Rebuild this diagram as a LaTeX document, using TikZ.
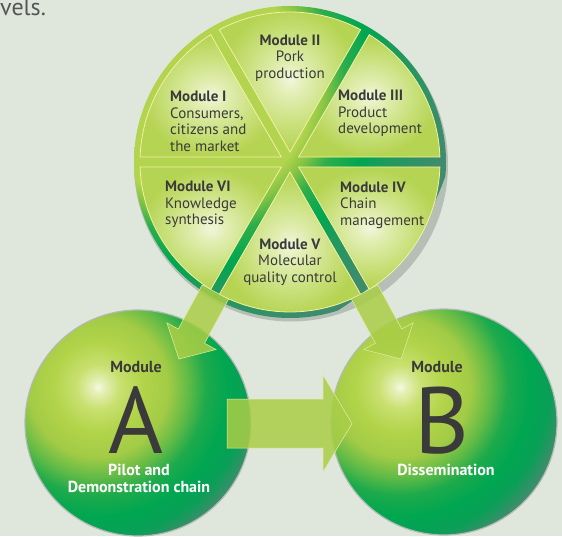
\documentclass[tikz,border=0pt]{standalone}
\usepackage{fontspec}
\setmainfont{PT Sans}
\usetikzlibrary{calc}

\definecolor{bgcol}{HTML}{DFE6DC}
\definecolor{txtgrey}{HTML}{3A3A3A}
\definecolor{toptxt}{HTML}{555555}
\definecolor{rimline}{HTML}{F3F0A4}
\definecolor{arrowgreen}{HTML}{A9CE46}
\definecolor{arrowedge}{HTML}{E2ECA8}
\definecolor{sphereline}{HTML}{B2BAB2}
\definecolor{wheelshadow}{HTML}{B6BFB6}
% sphere colours
\definecolor{sph0}{HTML}{F4F9E4}
\definecolor{sph1}{HTML}{E6F0B8}
\definecolor{sph2}{HTML}{C9E070}
\definecolor{sph3}{HTML}{B2D44A}
\definecolor{sph4}{HTML}{A3CB46}
\definecolor{sph5}{HTML}{62BB46}
\definecolor{sph6}{HTML}{1DAA4C}
\definecolor{sph7}{HTML}{00A651}
\definecolor{sph8}{HTML}{0A9F57}
\definecolor{sph9}{HTML}{3A8E6A}
\definecolor{sph10}{HTML}{548A74}
% wheel colours
\definecolor{disc0}{HTML}{B3D44E}
\definecolor{disc1}{HTML}{86C543}
\definecolor{disc2}{HTML}{2DAE4A}
\definecolor{disc3}{HTML}{00A651}
\definecolor{disc4}{HTML}{1E9A5C}
\definecolor{disc5}{HTML}{3F8B6D}
\definecolor{sec0}{HTML}{F1F6DC}
\definecolor{sec1}{HTML}{E1EDB0}
\definecolor{sec2}{HTML}{C8E07A}
\definecolor{sec3}{HTML}{B6D454}

\pgfdeclareradialshading{sphereshade}{\pgfpoint{0bp}{0bp}}{color(0bp)=(sph0); color(0.75bp)=(sph1); color(2.75bp)=(sph2); color(5.6bp)=(sph3); color(8.75bp)=(sph4); color(11.25bp)=(sph5); color(13.5bp)=(sph6); color(16.25bp)=(sph7); color(18.75bp)=(sph8); color(20.6bp)=(sph9); color(22.5bp)=(sph10); color(50bp)=(sph10)}
\pgfdeclareradialshading{discshade}{\pgfpoint{0bp}{0bp}}{color(0bp)=(disc0); color(10.6bp)=(disc0); color(12bp)=(disc1); color(13.9bp)=(disc2); color(16.8bp)=(disc3); color(19.2bp)=(disc4); color(24bp)=(disc5); color(50bp)=(disc5)}
\pgfdeclareradialshading{sectorshade}{\pgfpoint{0bp}{0bp}}{color(0bp)=(sec0); color(6bp)=(sec1); color(16bp)=(sec2); color(24bp)=(sec3); color(50bp)=(sec3)}

\tikzset{
  modtext/.style={text=txtgrey, inner sep=0pt, font=\fontsize{15}{16.5}\selectfont},
  bigletter/.style={text=txtgrey, inner sep=0pt, anchor=base, text depth=0pt, font=\fontsize{94}{94}\selectfont},
  spheretext/.style={inner sep=0pt, font=\bfseries\fontsize{16}{17}\selectfont},
  blockarrow/.style={fill=arrowgreen, fill opacity=0.85, draw=arrowedge, line width=0.5pt},
}

\begin{document}
\begin{tikzpicture}[x=1pt,y=1pt]
\useasboundingbox (0,0) rectangle (562,536);
\fill[bgcol] (0,0) rectangle (562,536);

\node[anchor=base west, inner sep=0pt, text=toptxt, font=\fontsize{24}{24}\selectfont] (lv) at (0,520) {vels.};

% wheel
\coordinate (W) at (290,374);
\fill[wheelshadow] ($(W)+(1,-2.5)$) circle[radius=157];
\begin{scope}
  \clip (W) circle[radius=156];
  \shade[shading=discshade] (200,446) circle[radius=260];
\end{scope}
\foreach \a in {0,60,...,300}{
  \shade[shading=sectorshade] ($(W)+(\a+30:10)$) -- ($(W)+(\a+1.9:150)$) arc[radius=150,start angle=\a+1.9,end angle=\a+58.1] -- cycle;
  \draw[rimline, line width=0.8pt] ($(W)+(\a+30:10)$) -- ($(W)+(\a+1.9:150)$) arc[radius=150,start angle=\a+1.9,end angle=\a+58.1] -- cycle;
}

\node[modtext, align=center] (m2) at (290,478) {\textbf{Module II}\\Pork\\production};
\node[modtext, align=left, anchor=west] (m1) at (170,414.5) {\textbf{Module I}\\Consumers,\\citizens and\\the market};
\node[modtext, align=left, anchor=west] (m3) at (338,422.5) {\textbf{Module III}\\Product\\development};
\node[modtext, align=left, anchor=west] (m6) at (165,331.5) {\textbf{Module VI}\\Knowledge\\synthesis};
\node[modtext, align=left, anchor=west] (m4) at (340,331) {\textbf{Module IV}\\Chain\\management};
\node[modtext, align=center] (m5) at (290,274) {\textbf{Module V}\\Molecular\\quality control};

% spheres
\coordinate (sa) at (138,113);
\coordinate (sb) at (444,114);
\begin{scope}
  \clip (sa) circle[radius=113];
  \shade[shading=sphereshade] (98,149) circle[radius=200];
\end{scope}
\begin{scope}
  \clip (sb) circle[radius=113];
  \shade[shading=sphereshade] (400,149) circle[radius=200];
\end{scope}
\draw[sphereline, line width=1.2pt] (sa) circle[radius=113];
\draw[sphereline, line width=1.2pt] (sb) circle[radius=113];

\node[spheretext, text=txtgrey] (ma) at (136,169) {Module};
\node[bigletter] (la) at (136,83) {A};
\node[spheretext, text=white, align=center] (da) at (139,57.5) {Pilot and\\Demonstration chain};
\node[spheretext, text=txtgrey] (mb) at (437,169) {Module};
\node[bigletter] (lb) at (442,83) {B};
\node[spheretext, text=white] (db) at (446,66) {Dissemination};

% arrows
\coordinate (la0) at (215.4,244);
\coordinate (la1) at (179,177);
\coordinate (ra0) at (364.6,244);
\coordinate (ra1) at (401,177);
\coordinate (ab0) at (227,112.5);
\coordinate (ab1) at (352,112.5);
\foreach \s/\t/\w/\h/\l in {la0/la1/15/28/26, ra0/ra1/15/28/26, ab0/ab1/24.5/48.5/29}{
  \coordinate (hb) at ($(\t)!\l pt!(\s)$);
  \filldraw[blockarrow] ($(\s)!\w pt!90:(\t)$) -- ($(hb)!\w pt!-90:(\s)$) -- ($(hb)!\h pt!-90:(\s)$) -- (\t) -- ($(hb)!\h pt!90:(\s)$) -- ($(hb)!\w pt!90:(\s)$) -- ($(\s)!\w pt!-90:(\t)$) -- cycle;
}
\end{tikzpicture}
\end{document}
